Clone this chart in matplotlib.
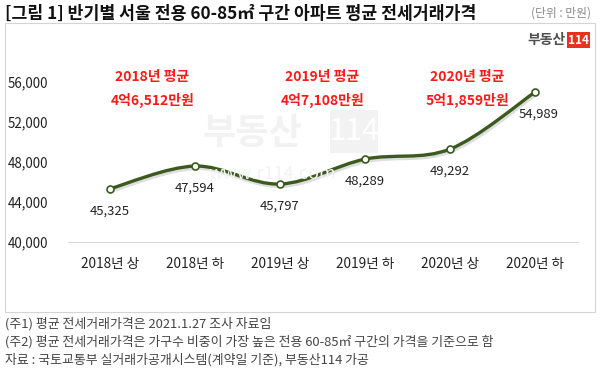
'''reproduces the half-year jeonse price line chart'''
import matplotlib
matplotlib.use('Agg')
import matplotlib.pyplot as plt
from matplotlib.path import Path
from matplotlib.patches import PathPatch, Rectangle
from matplotlib.transforms import ScaledTranslation
import numpy as np

plt.rcParams['font.family'] = ['Noto Sans CJK KR', 'DejaVu Sans']

# data
periods = ['2018년 상', '2018년 하', '2019년 상', '2019년 하', '2020년 상', '2020년 하']
prices = [45325, 47594, 45797, 48289, 49292, 54989]
yearly_titles = ['2018년 평균', '2019년 평균', '2020년 평균']
yearly_values = ['4억6,512만원', '4억7,108만원', '5억1,859만원']
yearly_pos = [0.5, 2.5, 4.2]
title = '[그림 1] 반기별 서울 전용 60-85㎡ 구간 아파트 평균 전세거래가격'
unit = '(단위 : 만원)'
notes = ['(주1) 평균 전세거래가격은 2021.1.27 조사 자료임',
         '(주2) 평균 전세거래가격은 가구수 비중이 가장 높은 전용 60-85㎡ 구간의 가격을 기준으로 함',
         '자료 : 국토교통부 실거래가공개시스템(계약일 기준), 부동산114 가공']

W, H = 600, 377
fig = plt.figure(figsize=(W / 100, H / 100), dpi=100)

def fx(px):
    return px / W

def fy(py):
    return 1 - py / H

# outer box
fig.patches.append(Rectangle((fx(5), fy(312)), fx(590), 289 / H, transform=fig.transFigure,
                             fill=False, edgecolor='#d4d4d4', linewidth=0.8))

fig.text(fx(5), fy(14), title, fontsize=12.4, fontweight='bold', va='center', color='#111111')
fig.text(fx(591), fy(13), unit, fontsize=8.5, va='center', ha='right', color='#888888')

for i, n in enumerate(notes):
    fig.text(fx(5), fy(324 + 18 * i), n, fontsize=9.3, va='center', color='#444444')

# logo
fig.text(fx(566), fy(40), '부동산', fontsize=10, fontweight='bold', ha='right', va='center',
         color='#505050')
fig.patches.append(Rectangle((fx(567), fy(48)), fx(23), 16 / H, transform=fig.transFigure,
                             facecolor='#e8321e', edgecolor='none'))
fig.text(fx(578.5), fy(40), '114', fontsize=8.5, fontweight='bold', ha='center', va='center',
         color='white')

# watermark
fig.text(fx(252), fy(133), '부동산', fontsize=26, fontweight='bold', ha='center', va='center',
         color='#f2f2f2', zorder=0)
fig.patches.append(Rectangle((fx(330), fy(153)), fx(48), 43 / H, transform=fig.transFigure,
                             facecolor='#f2f2f2', edgecolor='none', zorder=0))
fig.text(fx(354), fy(132), '114', fontsize=22, ha='center', va='center', color='white', zorder=0)
fig.text(fx(272), fy(174), 'www.r114.com', fontsize=13, ha='center', va='center',
         color='#f3f3f3', zorder=0)

ax = fig.add_axes([fx(67.5), fy(242), fx(510), 180 / H])
ax.patch.set_alpha(0)
ax.set_xlim(-0.5, len(periods) - 0.5)
ax.set_ylim(40000, 58000)
ax.set_yticks(np.arange(40000, 56001, 4000))
ax.set_yticklabels([f'{v:,}' for v in range(40000, 56001, 4000)], fontsize=9.6, color='#222222')
ax.set_xticks(range(len(periods)))
ax.set_xticklabels(periods, fontsize=9.8, color='#222222')
ax.tick_params(length=0, pad=11)
ax.tick_params(axis='y', pad=14)
for s in ['top', 'right', 'left']:
    ax.spines[s].set_visible(False)
ax.spines['bottom'].set_color('#d9d9d9')

# smooth line (catmull-rom style bezier through the points)
x = np.arange(len(prices), dtype=float)
y = np.array(prices, dtype=float)
verts = [(x[0], y[0])]
codes = [Path.MOVETO]
for i in range(len(x) - 1):
    p0 = (x[max(i - 1, 0)], y[max(i - 1, 0)])
    p1 = (x[i], y[i])
    p2 = (x[i + 1], y[i + 1])
    p3 = (x[min(i + 2, len(x) - 1)], y[min(i + 2, len(x) - 1)])
    c1 = (p1[0] + (p2[0] - p0[0]) / 6, p1[1] + (p2[1] - p0[1]) / 6)
    c2 = (p2[0] - (p3[0] - p1[0]) / 6, p2[1] - (p3[1] - p1[1]) / 6)
    verts += [c1, c2, p2]
    codes += [Path.CURVE4] * 3
path = Path(verts, codes)
shadow_tr = ax.transData + ScaledTranslation(1.2 / 100, -1.8 / 100, fig.dpi_scale_trans)
ax.add_patch(PathPatch(path, facecolor='none', edgecolor='#c8c8c8', linewidth=3.2, alpha=0.6,
                       transform=shadow_tr))
ax.add_patch(PathPatch(path, facecolor='none', edgecolor='#3b5a1d', linewidth=2.4,
                       capstyle='round'))
ax.plot(x, y, linestyle='none', marker='o', markersize=5, markerfacecolor='white',
        markeredgecolor='#3b5a1d', markeredgewidth=1.2, zorder=5)

for i, v in enumerate(prices):
    dx = 0.04 if i == len(prices) - 1 else 0
    ax.annotate(f'{v:,}', (i + dx, v), xytext=(0, -16), textcoords='offset points',
                ha='center', va='center', fontsize=9.4, color='#222222')

for xp, t, v in zip(yearly_pos, yearly_titles, yearly_values):
    ax.text(xp, 56500, t, fontsize=10, fontweight='bold', color='#ff1a1a', ha='center',
            va='center')
    ax.text(xp, 54200, v, fontsize=10, fontweight='bold', color='#ff1a1a', ha='center',
            va='center')

fig.savefig('out.png', dpi=100)
